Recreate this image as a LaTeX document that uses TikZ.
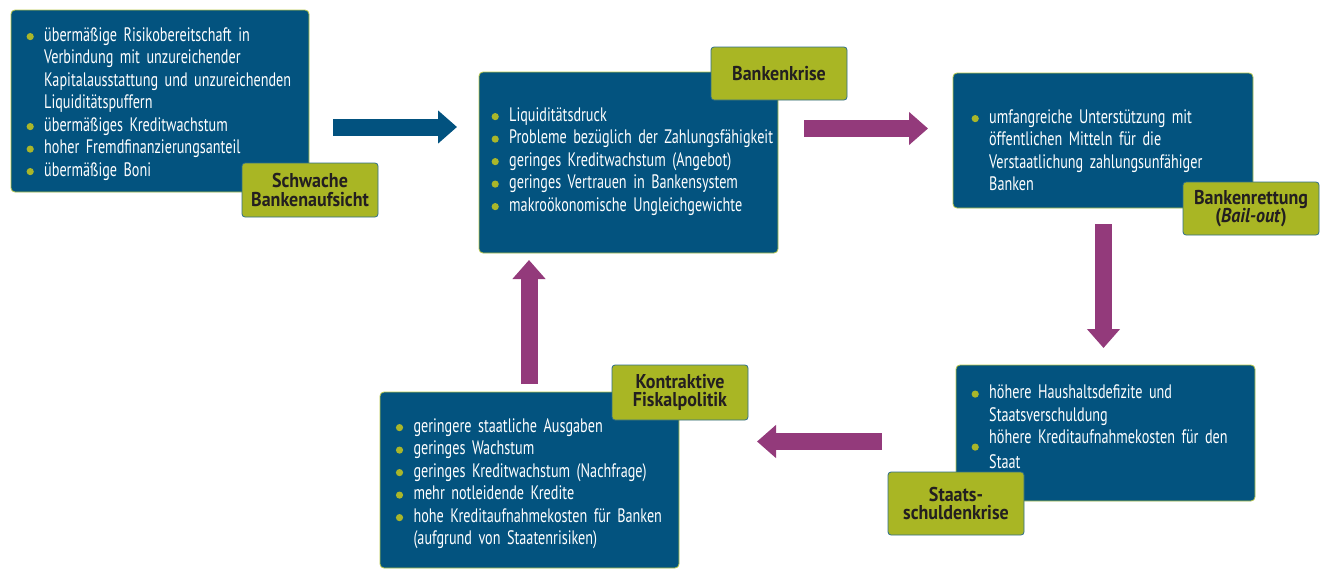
\documentclass[tikz,border=0pt]{standalone}
\usepackage{fontspec}
\setmainfont{PT Sans}[FakeStretch=0.728, WordSpace=0.5]
\newfontfamily\tagfont{PT Sans}[FakeStretch=0.9, WordSpace=0.7]
\usetikzlibrary{arrows.meta,positioning}
\definecolor{panelblue}{HTML}{03537F}
\definecolor{panelrim}{HTML}{B7C64A}
\definecolor{tagfill}{HTML}{A9B624}
\definecolor{tagrim}{HTML}{2E6D8C}
\definecolor{tagtext}{HTML}{231F20}
\definecolor{dotgreen}{HTML}{A9B62A}
\definecolor{flowpurple}{HTML}{933A7B}
\definecolor{flowblue}{HTML}{02527F}
\newcommand{\bulletmark}{\raisebox{1pt}{\tikz\fill[dotgreen] (0,0) circle (3.6pt);}}
\newcommand{\dotitem}[2][0pt]{\par\noindent\strut\makebox[17.6pt][l]{\raisebox{-#1}{\bulletmark}}#2}
\newcommand{\goon}[1]{\par\noindent\strut\hspace*{17.6pt}#1}

\begin{document}
\begin{tikzpicture}[
x=1pt, y=-1pt,
panel/.style={rectangle, draw=panelrim, line width=0.8pt, fill=panelblue, rounded corners=4pt, inner sep=0pt},
tag/.style={rectangle, draw=tagrim, line width=0.8pt, fill=tagfill, rounded corners=3pt, minimum width=136pt, text=tagtext, align=center, font=\tagfont\fontsize{20}{18.5}\selectfont\bfseries},
items/.style={anchor=north west, inner sep=0pt, text width=300pt, align=left, text=white, font=\fontsize{19.5}{22.5}\selectfont},
bigarrow/.style={line width=17pt, -{Triangle[length=19pt,width=32pt]}}
]
\useasboundingbox (0,0) rectangle (1324,570);

\node (weak) [panel, minimum width=298pt, minimum height=182pt] at (160,101) {};
\node (crisis) [panel, minimum width=299pt, minimum height=181pt] at (628.5,162.5) {};
\node (rescue) [panel, minimum width=300pt, minimum height=135pt] at (1103,140.5) {};
\node (debt) [panel, minimum width=299pt, minimum height=136pt] at (1105.5,433) {};
\node (fiscal) [panel, minimum width=299pt, minimum height=176pt] at (529.5,480) {};

\node (weaktxt) [items] at (26.4,18.5) {%
\dotitem{übermäßige Risikobereitschaft in}
\goon{Verbindung mit unzureichender}
\goon{Kapitalausstattung und unzureichenden}
\goon{Liquiditätspuffern}
\dotitem{übermäßiges Kreditwachstum}
\dotitem{hoher Fremdfinanzierungsanteil}
\dotitem{übermäßige Boni}};
\node (crisistxt) [items] at (491.4,98.5) {%
\dotitem{Liquiditätsdruck}
\dotitem{Probleme bezüglich der Zahlungsfähigkeit}
\dotitem{geringes Kreditwachstum (Angebot)}
\dotitem{geringes Vertrauen in Bankensystem}
\dotitem{makroökonomische Ungleichgewichte}};
\node (rescuetxt) [items] at (971.4,100.5) {%
\dotitem{umfangreiche Unterstützung mit}
\goon{öffentlichen Mitteln für die}
\goon{Verstaatlichung zahlungsunfähiger}
\goon{Banken}};
\node (debttxt) [items] at (971.4,376) {%
\dotitem{höhere Haushaltsdefizite und}
\goon{Staatsverschuldung}
\dotitem[8pt]{höhere Kreditaufnahmekosten für den}
\goon{Staat}};
\node (fiscaltxt) [items] at (395.7,409.5) {%
\dotitem{geringere staatliche Ausgaben}
\dotitem{geringes Wachstum}
\dotitem{geringes Kreditwachstum (Nachfrage)}
\dotitem{mehr notleidende Kredite}
\dotitem{hohe Kreditaufnahmekosten für Banken}
\goon{(aufgrund von Staatenrisiken)}};

\node (weaktag) [tag, minimum height=54pt] at (310,190) {Schwache\\Bankenaufsicht};
\node (crisistag) [tag, minimum height=53pt] at (779,73.5) {Bankenkrise};
\node (rescuetag) [tag, minimum height=53pt] at (1251,208.5) {Bankenrettung\\(\textit{Bail-out})};
\node (debttag) [tag, minimum height=63pt] at (956,503.5) {Staats-\\schuldenkrise};
\node (fiscaltag) [tag, minimum height=55pt] at (680,392.5) {Kontraktive\\Fiskalpolitik};

\coordinate (a1s) at (333,127);
\coordinate (a1e) at (457,127);
\coordinate (a2s) at (804,128.5);
\coordinate (a2e) at (928,128.5);
\coordinate (a3s) at (1103.5,224);
\coordinate (a3e) at (1103.5,348);
\coordinate (a4s) at (882,441.5);
\coordinate (a4e) at (757,441.5);
\coordinate (a5s) at (529,384);
\coordinate (a5e) at (529,260);

\draw [bigarrow, flowblue] (a1s) -- (a1e);
\draw [bigarrow, flowpurple] (a2s) -- (a2e);
\draw [bigarrow, flowpurple] (a3s) -- (a3e);
\draw [bigarrow, flowpurple] (a4s) -- (a4e);
\draw [bigarrow, flowpurple] (a5s) -- (a5e);
\end{tikzpicture}
\end{document}
